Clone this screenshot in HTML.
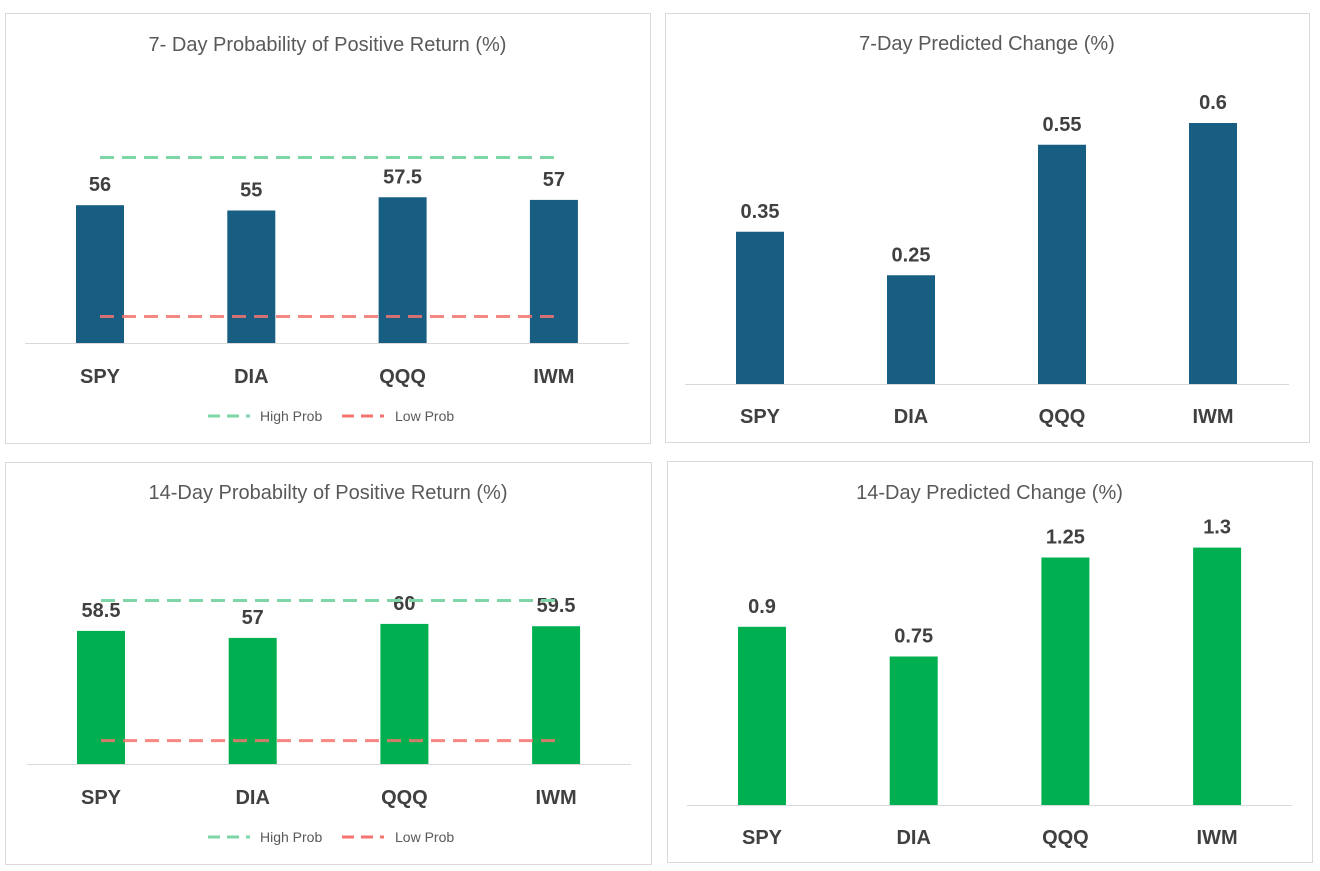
<!DOCTYPE html>
<html><head><meta charset="utf-8">
<style>
body{margin:0;background:#fff;width:1320px;height:871px;overflow:hidden;font-family:"Liberation Sans",sans-serif}
svg{position:absolute;left:0;top:0}
</style></head>
<body>
<svg id="c" width="1320" height="871"></svg>
<script>
const cats = ["SPY","DIA","QQQ","IWM"];
const prob7 = [56,55,57.5,57];
const prob14 = [58.5,57,60,59.5];
const chg7 = [0.35,0.25,0.55,0.6];
const chg14 = [0.9,0.75,1.25,1.3];
const valLabels7p = ["56","55","57.5","57"];
const valLabels14p = ["58.5","57","60","59.5"];
const valLabels7c = ["0.35","0.25","0.55","0.6"];
const valLabels14c = ["0.9","0.75","1.25","1.3"];
const highProb = 65;
const lowProb = 35;

const NS="http://www.w3.org/2000/svg";
const svg=document.getElementById('c');
function mk(tag,attrs,parent){const e=document.createElementNS(NS,tag);for(const k in attrs)e.setAttribute(k,attrs[k]);(parent||svg).appendChild(e);return e;}

const panels=[
 {name:'prob-7day',box:[5,13,645,430],title:'7- Day Probability of Positive Return (%)',titleY:51,axisY:343,ax0:25,ax1:629,centers0:100,step:151.3,min:30,ppu:5.3,vals:prob7,labels:valLabels7p,color:'#175E82',legend:true,catY:383,legY:421},
 {name:'change-7day',box:[665,13,644,429],title:'7-Day Predicted Change (%)',titleY:50,axisY:384,ax0:685,ax1:1289,centers0:760,step:151,min:0,ppu:435,vals:chg7,labels:valLabels7c,color:'#175E82',legend:false,catY:423},
 {name:'prob-14day',box:[5,462,646,402],title:'14-Day Probabilty of Positive Return (%)',titleY:499,axisY:764,ax0:27,ax1:631,centers0:101,step:151.7,min:30,ppu:4.67,vals:prob14,labels:valLabels14p,color:'#00B050',legend:true,catY:804,legY:842},
 {name:'change-14day',box:[667,461,645,401],title:'14-Day Predicted Change (%)',titleY:499,axisY:805,ax0:687,ax1:1292,centers0:762,step:151.7,min:0,ppu:198,vals:chg14,labels:valLabels14c,color:'#00B050',legend:false,catY:844}
];

panels.forEach(p=>{
 const g=mk('g',{});
 
 
 mk('rect',{x:p.box[0]+0.5,y:p.box[1]+0.5,width:p.box[2],height:p.box[3],fill:'#fff',stroke:'#d9d9d9'},g);
 const t=mk('text',{x:p.box[0]+p.box[2]/2,y:p.titleY,'text-anchor':'middle','font-size':20,fill:'#595959'},g);
 t.textContent=p.title;
 
 
 const yv=v=>p.axisY-(v-p.min)*p.ppu;
 const xc=i=>p.centers0+i*p.step;
 p.vals.forEach((v,i)=>{
  const b=mk('rect',{x:xc(i)-24,y:yv(v),width:48,height:p.axisY-yv(v),fill:p.color},g);
  
  
  const l=mk('text',{x:xc(i),y:yv(v)-14,'text-anchor':'middle','font-size':20,'font-weight':'bold',fill:'#404040'},g);
  l.textContent=p.labels[i];
  
  
  const c=mk('text',{x:xc(i),y:p.catY,'text-anchor':'middle','font-size':20,'font-weight':'bold',fill:'#404040'},g);
  c.textContent=cats[i];
  
  
 });
 const ax=mk('line',{x1:p.ax0,x2:p.ax1,y1:p.axisY+0.5,y2:p.axisY+0.5,stroke:'#d9d9d9','stroke-width':1},g);
 
 
 if(p.legend){
  const hl=mk('line',{x1:xc(0),x2:xc(3),y1:yv(highProb),y2:yv(highProb),stroke:'#7ED6A6','stroke-width':3,'stroke-dasharray':'14,8'},g);
  
  
  const ll=mk('line',{x1:xc(0),x2:xc(3),y1:yv(lowProb),y2:yv(lowProb),stroke:'#F4736E','stroke-opacity':0.85,'stroke-width':3,'stroke-dasharray':'14,8'},g);
  
  
  const lx=p.box[0]+203;
  const e1=mk('g',{},g);
  
  
  mk('line',{x1:lx,x2:lx+42,y1:p.legY-5,y2:p.legY-5,stroke:'#7ED6A6','stroke-width':3,'stroke-dasharray':'12,7'},e1);
  const tx1=mk('text',{x:lx+52,y:p.legY,'font-size':14,fill:'#595959'},e1);tx1.textContent='High Prob';
  const e2=mk('g',{},g);
  
  
  mk('line',{x1:lx+134,x2:lx+176,y1:p.legY-5,y2:p.legY-5,stroke:'#F4736E','stroke-width':3,'stroke-dasharray':'12,7'},e2);
  const tx2=mk('text',{x:lx+187,y:p.legY,'font-size':14,fill:'#595959'},e2);tx2.textContent='Low Prob';
 }
});
</script>
</body></html>
